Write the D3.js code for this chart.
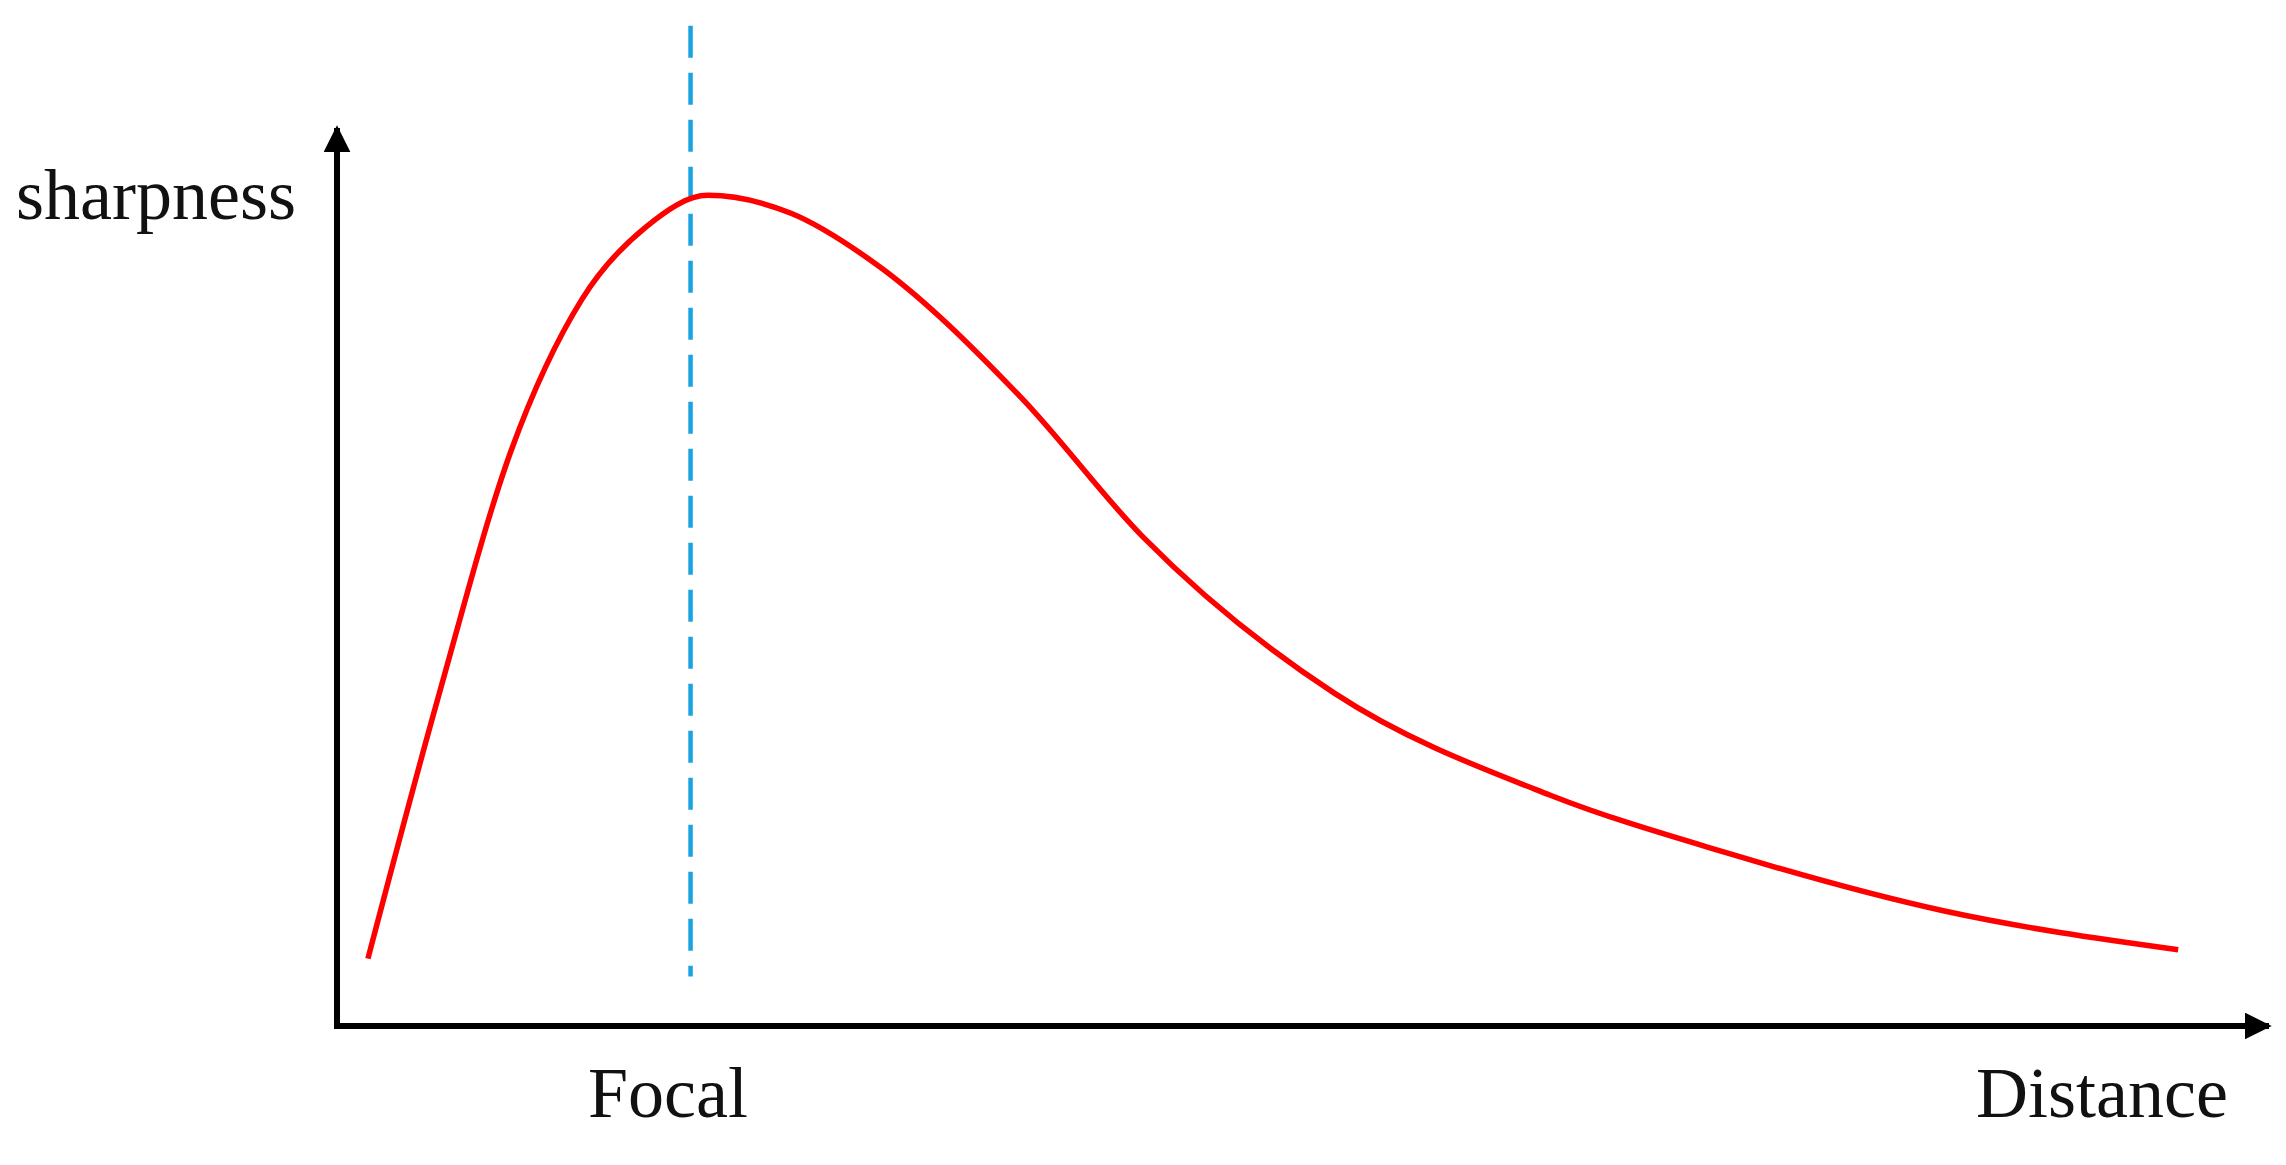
<!DOCTYPE html>
<html><head><meta charset="utf-8">
<script src="https://cdn.jsdelivr.net/npm/d3@7"></script>
<style>body{margin:0;background:#fff}text{font-family:"Liberation Serif","Times New Roman",serif;fill:#111}</style>
</head><body><div id="chart"></div>
<script>
// sharpness vs distance curve (relative units)
var distance = [0.016, 0.052, 0.090, 0.127, 0.160, 0.192, 0.235, 0.278, 0.354, 0.417, 0.516, 0.628, 0.719, 0.832, 0.953];
var sharpness = [0.075, 0.363, 0.640, 0.810, 0.890, 0.925, 0.905, 0.850, 0.700, 0.545, 0.371, 0.257, 0.193, 0.128, 0.085];
var focal = 0.183;
var focalSpan = [0.055, 1.114];

var width = 2286, height = 1165;
var x = d3.scaleLinear().domain([0, 1]).range([337, 2269]);
var y = d3.scaleLinear().domain([0, 1]).range([1026, 128]);

var svg = d3.select("#chart").append("svg").attr("width", width).attr("height", height);

var defs = svg.append("defs");
defs.append("marker").attr("id", "arr").attr("viewBox", "0 0 10 10")
    .attr("refX", 9).attr("refY", 5).attr("markerWidth", 4.5).attr("markerHeight", 4.5)
    .attr("markerUnits", "strokeWidth").attr("orient", "auto")
  .append("path").attr("d", "M0,0L10,5L0,10z").attr("fill", "#000");

// axes
svg.append("line").attr("x1", x(0)).attr("y1", y(0)).attr("x2", x(1)).attr("y2", y(0))
    .attr("stroke", "#000").attr("stroke-width", 6).attr("marker-end", "url(#arr)");
svg.append("line").attr("x1", x(0)).attr("y1", y(0) + 3).attr("x2", x(0)).attr("y2", y(1))
    .attr("stroke", "#000").attr("stroke-width", 6).attr("marker-end", "url(#arr)");

// focal line
svg.append("line").attr("x1", x(focal)).attr("x2", x(focal))
    .attr("y1", y(focalSpan[1])).attr("y2", y(focalSpan[0]))
    .attr("stroke", "#1aa3e0").attr("stroke-width", 4.5).attr("stroke-dasharray", "32,15");

var line = d3.line().x(function(d, i) { return x(distance[i]); }).y(function(d) { return y(d); })
    .curve(d3.curveMonotoneX);
svg.append("path").datum(sharpness).attr("d", line)
    .attr("fill", "none").attr("stroke", "#ff0000").attr("stroke-width", 5.5);

svg.append("text").attr("x", 16).attr("y", 219).attr("font-size", 72).text("sharpness");
svg.append("text").attr("x", 588).attr("y", 1117).attr("font-size", 72).text("Focal");
svg.append("text").attr("x", 2228).attr("y", 1117).attr("font-size", 72).attr("text-anchor", "end").text("Distance");
</script></body></html>
